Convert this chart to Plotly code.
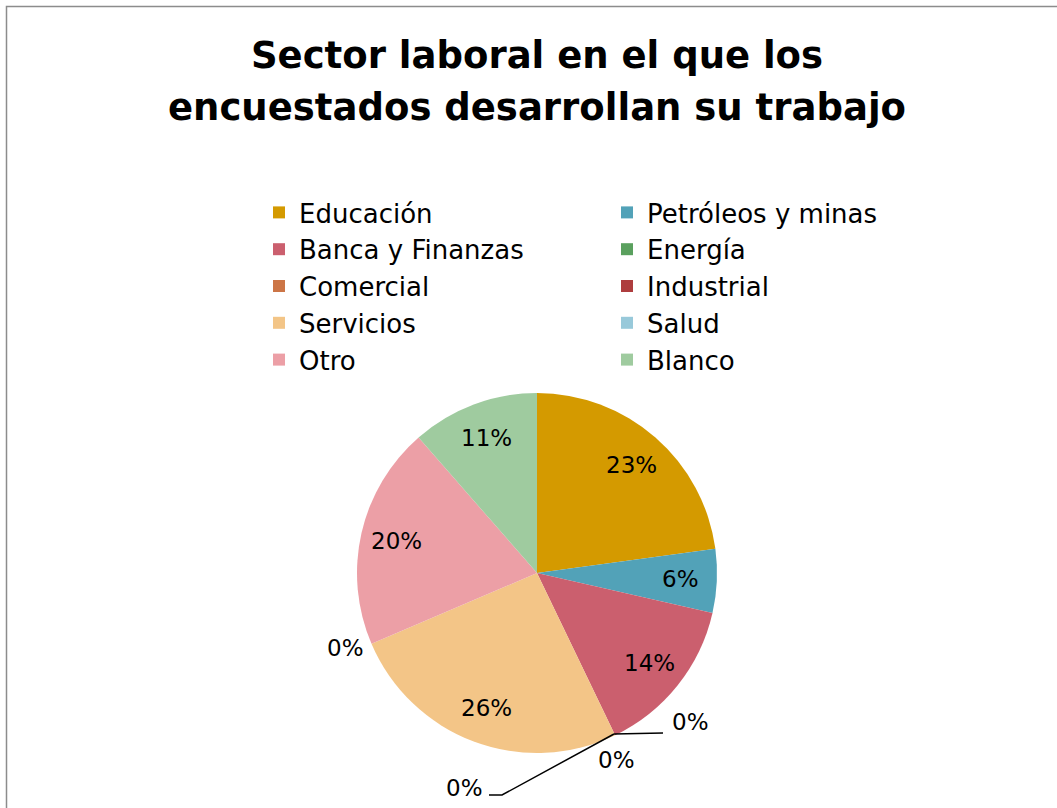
import math
import plotly.graph_objects as go

labels = ["Educación", "Petróleos y minas", "Banca y Finanzas", "Energía", "Comercial",
          "Industrial", "Servicios", "Salud", "Otro", "Blanco"]
counts = [8, 2, 5, 0, 0, 0, 9, 0, 7, 4]
colors = ["#D49A00", "#52A2B8", "#CB5F6E", "#5AA05E", "#CC7546",
          "#AE3D3E", "#F3C587", "#98C9DA", "#EC9FA6", "#9FCB9F"]
title_line1 = "Sector laboral en el que los"
title_line2 = "encuestados desarrollan su trabajo"

W, H = 1057, 808
MR = 150  # right margin, narrows plot area so the legend wraps into two columns
PW = W - MR
FONT = "DejaVu Sans"

def px(x):
    return x / PW

def py(y):
    return 1 - y / H

# pie geometry (pixels)
CX, CY, R = 537, 573, 180

total = sum(counts)

fig = go.Figure(go.Pie(
    labels=labels,
    values=counts,
    textinfo="none",
    sort=False,
    direction="clockwise",
    rotation=0,
    marker=dict(colors=colors, line=dict(width=0)),
    domain=dict(x=[px(CX - R), px(CX + R)], y=[py(CY + R), py(CY - R)]),
    hoverinfo="label+percent",
))

annotations = []
# percentage labels of non-zero slices at the slice mid-angle
cum = 0
for c in counts:
    if c > 0:
        mid = (cum + c / 2) / total * 2 * math.pi
        lx = CX + 0.8 * R * math.sin(mid)
        ly = CY - 0.8 * R * math.cos(mid)
        annotations.append(dict(x=px(lx), y=py(ly), xref="paper", yref="paper",
                                text=f"{round(100 * c / total)}%", showarrow=False,
                                font=dict(family=FONT, size=23, color="#000000"),
                                xanchor="center", yanchor="middle"))
    cum += c

# labels for zero-valued categories
zero_labels = [
    ("Energía", 690, 722),
    ("Comercial", 616, 760),
    ("Industrial", 465, 788),
    ("Salud", 345, 648),
]
for name, x, y in zero_labels:
    idx = labels.index(name)
    pct = round(100 * counts[idx] / total)
    annotations.append(dict(x=px(x), y=py(y), xref="paper", yref="paper",
                            text=f"{pct}%", showarrow=False,
                            font=dict(family=FONT, size=23, color="#000000"),
                            xanchor="center", yanchor="middle"))

annotations.append(dict(x=px(537), y=py(107), xref="paper", yref="paper",
                        text=f"<b>{title_line2}</b>", showarrow=False,
                        font=dict(family=FONT, size=37, color="#000000"),
                        xanchor="center", yanchor="middle"))

shapes = [
    dict(type="rect", xref="paper", yref="paper", x0=px(6.5), y0=py(830), x1=px(1080), y1=py(6.5),
         line=dict(color="#8C8C8C", width=1.5), fillcolor="rgba(0,0,0,0)", layer="below"),
    dict(type="path", xref="paper", yref="paper",
         path=f"M {px(614)} {py(734)} L {px(663)} {py(733)}",
         line=dict(color="#000000", width=1.5)),
    dict(type="path", xref="paper", yref="paper",
         path=f"M {px(614)} {py(734)} L {px(502)} {py(795)} L {px(489)} {py(795)}",
         line=dict(color="#000000", width=1.5)),
]

fig.update_layout(
    width=W, height=H,
    margin=dict(l=0, r=MR, t=0, b=0),
    paper_bgcolor="#FFFFFF",
    plot_bgcolor="#FFFFFF",
    title=dict(text=f"<b>{title_line1}</b>", x=537 / W, xanchor="center", y=py(55), yanchor="middle",
               font=dict(family=FONT, size=37, color="#000000")),
    legend=dict(orientation="h", x=px(259), xanchor="left", y=py(189), yanchor="top",
                entrywidth=303, entrywidthmode="pixels",
                font=dict(family=FONT, size=26, color="#000000"),
                itemclick=False, bgcolor="rgba(0,0,0,0)", traceorder="normal"),
    annotations=annotations,
    shapes=shapes,
    showlegend=True,
)

fig.write_html("out.html", config={"displayModeBar": False},
               post_script="document.body.style.margin='0px';")
